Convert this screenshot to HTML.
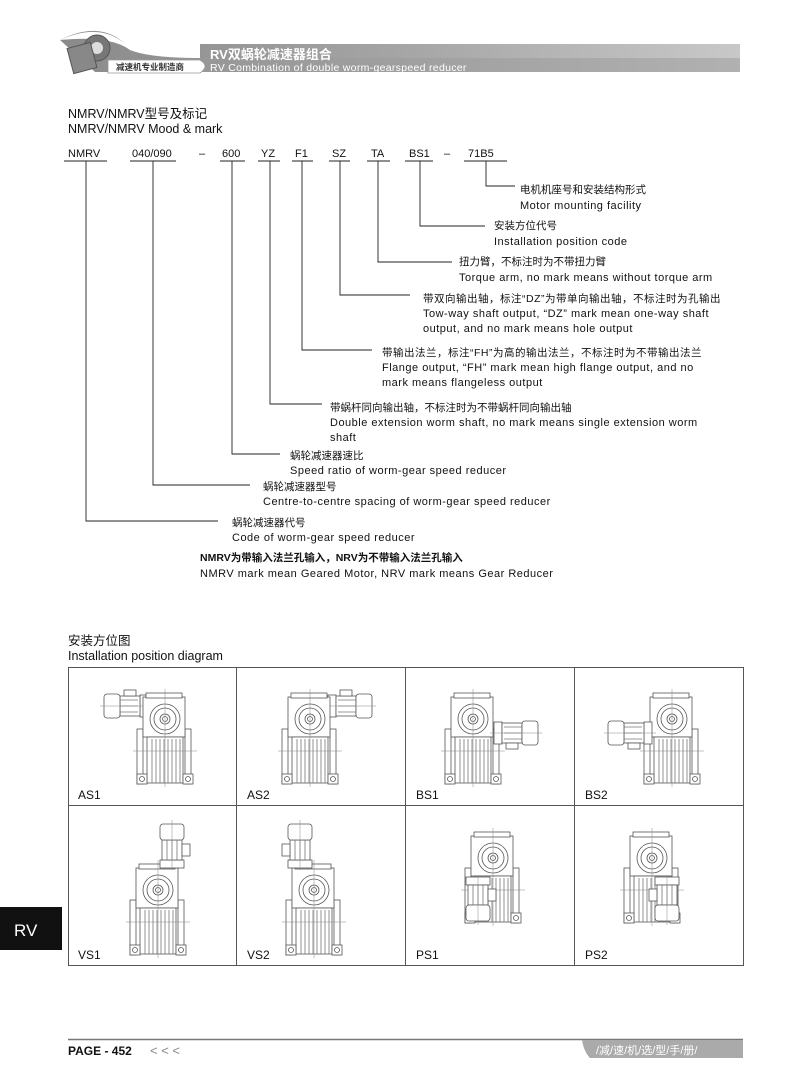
<!DOCTYPE html>
<html><head><meta charset="utf-8">
<style>
html,body{margin:0;padding:0;background:#fff;}
body{width:800px;height:1092px;position:relative;overflow:hidden;font-family:"Liberation Sans","Noto Sans CJK SC",sans-serif;}
svg{position:absolute;left:0;top:0;}
.en{letter-spacing:0.5px;font-size:11px;}
</style></head><body>
<svg width="800" height="1092" viewBox="0 0 800 1092" xmlns="http://www.w3.org/2000/svg" font-family="Liberation Sans, Noto Sans CJK SC, sans-serif">
<defs>
<linearGradient id="bar" x1="0" y1="0" x2="1" y2="0">
<stop offset="0" stop-color="#8a8a8a"/><stop offset="0.5" stop-color="#a5a5a5"/><stop offset="1" stop-color="#c8c8c8"/></linearGradient>
<g id="gb" fill="#fff" stroke="#555" stroke-width="0.8">
<rect x="-28" y="10" width="6" height="55"/>
<rect x="20" y="10" width="6" height="55"/>
<rect x="-22" y="-22" width="42" height="40"/>
<rect x="-19" y="-26" width="36" height="5"/>
<circle cx="0" cy="0" r="15"/><circle cx="0" cy="0" r="11"/><circle cx="0" cy="0" r="5"/><circle cx="0" cy="0" r="2.5"/>
<rect x="-18" y="18" width="36" height="46"/>
<path d="M-13 20V64M-9 20V64M-5 20V64M-1 20V64M3 20V64M7 20V64M11 20V64M15 20V64" stroke="#777"/>
<rect x="-28" y="55" width="10" height="10"/><rect x="18" y="55" width="10" height="10"/>
<circle cx="-23" cy="60" r="2.5"/><circle cx="23" cy="60" r="2.5"/>
<path d="M0 -30V68M-32 32H32" stroke="#888" stroke-width="0.5"/>
</g>
<g id="mh" fill="#fff" stroke="#555" stroke-width="0.8">
<rect x="0" y="-11" width="8" height="22"/>
<rect x="8" y="-10" width="20" height="20"/>
<rect x="12" y="-16" width="12" height="6"/>
<rect x="28" y="-12" width="16" height="24" rx="3"/>
<path d="M10 -6H28M10 0H28M10 6H28" stroke="#777"/>
<path d="M-4 0H48" stroke="#888" stroke-width="0.5"/>
</g>
<g id="mv" fill="#fff" stroke="#555" stroke-width="0.8">
<rect x="-12" y="-8" width="24" height="8"/>
<rect x="-10" y="-28" width="20" height="20"/>
<rect x="10" y="-24" width="8" height="12"/>
<rect x="-12" y="-44" width="24" height="16" rx="3"/>
<path d="M-5 -28V-8M0 -28V-8M5 -28V-8" stroke="#777"/>
<path d="M0 -48V2" stroke="#888" stroke-width="0.5"/>
</g>
</defs>

<!-- header -->
<path d="M60 40 Q100 20 125 44 L740 44 L740 72 L95 72 Z" fill="url(#bar)"/>
<path d="M60 40 Q100 22 125 44 L200 44 L200 58 Q150 58 130 50 Q110 35 60 40Z" fill="#fff"/>
<path d="M200 58 H740 V72 H200 Z" fill="#9a9a9a" opacity="0.5"/>
<path d="M108 60 H200 Q210 66 200 73 H108 Z" fill="#fff" stroke="#999" stroke-width="0.8"/>
<text x="116" y="70" font-size="8.5" font-weight="bold" fill="#333">减速机专业制造商</text>
<circle cx="97" cy="48" r="13" fill="#777" stroke="#555"/><circle cx="97" cy="48" r="6" fill="#ddd"/>
<rect x="70" y="45" width="24" height="26" fill="#888" stroke="#555" transform="rotate(-15 82 58)"/>
<text x="210" y="59" font-size="13" font-weight="bold" fill="#fff">RV双蜗轮减速器组合</text>
<text x="210" y="71" font-size="10.5" fill="#fff" letter-spacing="0.3">RV Combination of double worm-gearspeed reducer</text>

<!-- titles -->
<g font-size="12.5" fill="#111">
<text x="68" y="118">NMRV/NMRV型号及标记</text>
<text x="68" y="133">NMRV/NMRV Mood &amp; mark</text>
</g>
<g font-size="11" fill="#111">
<text x="68" y="157">NMRV</text><text x="132" y="157">040/090</text><text x="199" y="157">–</text>
<text x="222" y="157">600</text><text x="261" y="157">YZ</text><text x="295" y="157">F1</text>
<text x="332" y="157">SZ</text><text x="371" y="157">TA</text><text x="409" y="157">BS1</text>
<text x="444" y="157">–</text><text x="468" y="157">71B5</text>
</g>
<g stroke="#222" stroke-width="0.9" fill="none">
<path d="M64 161H107M130 161H176M220 161H245M258 161H280M292 161H313M329 161H350M367 161H390M405 161H433M464 161H507"/>
<path d="M86 161V521H218"/>
<path d="M153 161V485H250"/>
<path d="M232 161V454H280"/>
<path d="M270 161V404H322"/>
<path d="M302 161V350H372"/>
<path d="M340 161V295H410"/>
<path d="M378 161V262H452"/>
<path d="M420 161V226H485"/>
<path d="M486 161V186H515"/>
</g>
<g font-size="10.5" fill="#111">
<text x="520" y="193">电机机座号和安装结构形式</text><text class="en" x="520" y="209">Motor mounting facility</text>
<text x="494" y="229">安装方位代号</text><text class="en" x="494" y="245">Installation position code</text>
<text x="459" y="265">扭力臂，不标注时为不带扭力臂</text><text class="en" x="459" y="281">Torque arm, no mark means without torque arm</text>
<text x="423" y="302" letter-spacing="0.5">带双向输出轴，标注“DZ”为带单向输出轴，不标注时为孔输出</text>
<text class="en" x="423" y="317">Tow-way shaft output, “DZ” mark mean one-way shaft</text>
<text class="en" x="423" y="332">output, and no mark means hole output</text>
<text x="382" y="356" letter-spacing="0.5">带输出法兰，标注“FH”为高的输出法兰，不标注时为不带输出法兰</text>
<text class="en" x="382" y="371">Flange output, “FH” mark mean high flange output, and no</text>
<text class="en" x="382" y="386">mark means flangeless output</text>
<text x="330" y="411">带蜗杆同向输出轴，不标注时为不带蜗杆同向输出轴</text>
<text class="en" x="330" y="426">Double extension worm shaft, no mark means single extension worm</text>
<text class="en" x="330" y="441">shaft</text>
<text x="290" y="459">蜗轮减速器速比</text><text class="en" x="290" y="474">Speed ratio of worm-gear speed reducer</text>
<text x="263" y="490">蜗轮减速器型号</text><text class="en" x="263" y="505">Centre-to-centre spacing of worm-gear speed reducer</text>
<text x="232" y="526">蜗轮减速器代号</text><text class="en" x="232" y="541">Code of worm-gear speed reducer</text>
<text x="200" y="561" font-weight="bold">NMRV为带输入法兰孔输入，NRV为不带输入法兰孔输入</text>
<text class="en" x="200" y="577">NMRV mark mean Geared Motor, NRV mark means Gear Reducer</text>
</g>

<g font-size="12.5" fill="#111">
<text x="68" y="645">安装方位图</text><text x="68" y="660">Installation position diagram</text>
</g>
<g stroke="#555" stroke-width="1" fill="none">
<rect x="68.5" y="667.5" width="675" height="298"/>
<path d="M68 805.5H743M236.5 667V966M405.5 667V966M574.5 667V966"/>
</g>

<use href="#mh" transform="translate(148,706) scale(-1,1)"/>
<use href="#gb" x="165" y="719"/>
<use href="#mh" transform="translate(328,706)"/>
<use href="#gb" x="310" y="719"/>
<use href="#gb" x="473" y="719"/>
<use href="#mh" transform="translate(494,733) scale(1,-1)"/>
<use href="#gb" x="672" y="719"/>
<use href="#mh" transform="translate(652,733) scale(-1,-1)"/>
<use href="#gb" x="158" y="890"/>
<use href="#mv" x="172" y="868"/>
<use href="#gb" x="314" y="890"/>
<use href="#mv" transform="translate(300,868) scale(-1,1)"/>
<use href="#gb" x="493" y="858"/>
<use href="#mv" transform="translate(478,877) scale(1,-1)"/>
<use href="#gb" x="652" y="858"/>
<use href="#mv" transform="translate(667,877) scale(-1,-1)"/>

<g font-size="12" fill="#111">
<text x="78" y="799">AS1</text><text x="247" y="799">AS2</text><text x="416" y="799">BS1</text><text x="585" y="799">BS2</text>
<text x="78" y="959">VS1</text><text x="247" y="959">VS2</text><text x="416" y="959">PS1</text><text x="585" y="959">PS2</text>
</g>

<rect x="0" y="907" width="62" height="43" fill="#111"/>
<text x="14" y="936" font-size="17" fill="#fff">RV</text>

<path d="M68 1039.5H743" stroke="#777" stroke-width="1.5"/>
<path d="M582 1040H743V1058H590Q584 1052 582 1040Z" fill="#aaa"/>
<text x="596" y="1054" font-size="11" fill="#fff">/减/速/机/选/型/手/册/</text>
<text x="68" y="1055" font-size="12" font-weight="bold" fill="#111">PAGE - 452</text>
<text x="150" y="1055" font-size="13" fill="#888">&lt; &lt; &lt;</text>
</svg>
</body></html>
